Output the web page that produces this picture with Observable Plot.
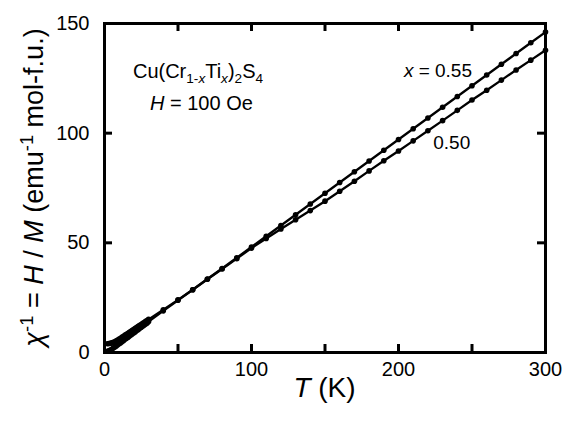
<!DOCTYPE html>
<html>
<head>
<meta charset="utf-8">
<script src="https://cdn.jsdelivr.net/npm/d3@7"></script>
<script src="https://cdn.jsdelivr.net/npm/@observablehq/plot@0.6"></script>
<style>
  body { margin: 0; background: #fff; }
  svg { font-family: "Liberation Sans", Arial, Helvetica, sans-serif; }
</style>
</head>
<body>
<div id="chart"></div>
<script>
// Inverse susceptibility of Cu(Cr1-xTix)2S4 measured at H = 100 Oe
// Low-temperature sweep (K), dense steps
const tempLow = [2, 3, 4, 5, 6, 7, 8, 9, 10, 11, 12, 13, 14, 15, 16, 17, 18, 19, 20, 21, 22, 23, 24, 25, 26, 27, 28, 29, 30];
const invChi055Low = [4.0, 4.1, 4.2, 4.4, 4.6, 4.9, 5.3, 5.7, 6.1, 6.5, 7.0, 7.4, 7.9, 8.3, 8.8, 9.2, 9.7, 10.1, 10.6, 11.0, 11.5, 11.9, 12.4, 12.8, 13.3, 13.7, 14.2, 14.6, 15.1];
const invChi050Low = [0.6, 0.8, 1.1, 1.5, 2.0, 2.5, 3.0, 3.5, 4.0, 4.5, 5.0, 5.5, 6.0, 6.5, 7.0, 7.5, 8.0, 8.5, 9.0, 9.5, 10.0, 10.5, 11.0, 11.5, 12.0, 12.5, 13.0, 13.5, 14.1];
// High-temperature sweep (K), 10 K steps
const tempHigh = [40, 50, 60, 70, 80, 90, 100, 110, 120, 130, 140, 150, 160, 170, 180, 190, 200, 210, 220, 230, 240, 250, 260, 270, 280, 290, 300];
const invChi055High = [19.5, 24.0, 28.6, 33.5, 38.3, 43.2, 48.1, 53.0, 57.9, 62.8, 67.7, 72.6, 77.5, 82.4, 87.3, 92.2, 97.1, 102.0, 106.9, 111.8, 116.7, 121.6, 126.5, 131.4, 136.3, 141.2, 146.1];
const invChi050High = [19.0, 23.8, 28.6, 33.4, 38.1, 42.8, 47.6, 52.0, 56.3, 60.5, 64.7, 69.0, 73.5, 78.1, 82.8, 87.4, 91.9, 96.5, 101.1, 105.7, 110.4, 115.1, 119.6, 124.2, 128.8, 133.3, 137.8];

const xTicks = [0, 50, 100, 150, 200, 250, 300];
const xTickLabels = [0, 100, 200, 300];
const yTicks = [0, 50, 100, 150];

function series(x, temps, values) {
  return temps.map((T, i) => ({ x, T, chi: values[i] }));
}
const rows = [
  ...series("0.55", [...tempLow, ...tempHigh], [...invChi055Low, ...invChi055High]),
  ...series("0.50", [...tempLow, ...tempHigh], [...invChi050Low, ...invChi050High])
];

const W = 566, H = 428;
const mL = 104, mR = 21, mT = 23, mB = 76;
const plotW = W - mL - mR, plotH = H - mT - mB;
const tickLen = 8;

const chart = Plot.plot({
  width: W,
  height: H,
  marginLeft: mL,
  marginRight: mR,
  marginTop: mT,
  marginBottom: mB,
  style: { background: "#fff", color: "#000", fontFamily: '"Liberation Sans", Arial, sans-serif', fontSize: "20px", overflow: "visible" },
  x: { domain: [0, 300] },
  y: { domain: [0, 150] },
  marks: [
    Plot.line(rows, { x: "T", y: "chi", z: "x", stroke: "#000", strokeWidth: 2.3 }),
    Plot.dot(rows, { x: "T", y: "chi", r: 2.8, fill: "#000", stroke: "none" }),
    // inward ticks on all four sides
    Plot.tickX(xTicks, { x: d => d, insetTop: plotH - tickLen, stroke: "#000", strokeWidth: 3 }),
    Plot.tickX(xTicks, { x: d => d, insetBottom: plotH - tickLen, stroke: "#000", strokeWidth: 3 }),
    Plot.tickY(yTicks, { y: d => d, insetRight: plotW - tickLen, stroke: "#000", strokeWidth: 3 }),
    Plot.tickY(yTicks, { y: d => d, insetLeft: plotW - tickLen, stroke: "#000", strokeWidth: 3 }),
    Plot.frame({ stroke: "#000", strokeWidth: 3 }),
    Plot.axisX(xTickLabels, { tickSize: 0, tickPadding: 9, fontSize: 20, label: null }),
    Plot.axisY(yTicks, { tickSize: 0, tickPadding: 15, fontSize: 20, label: null })
  ]
});
document.getElementById("chart").appendChild(chart);

const sx = chart.scale("x"), sy = chart.scale("y");
const svg = d3.select(chart);

// rich text helper: parts = [text, {italic, sub, sup}]
function rich(g, parts, size) {
  let shift = 0;
  parts.forEach(p => {
    const o = typeof p === "string" ? { t: p } : p;
    const ts = g.append("tspan").text(o.t);
    const target = o.sub ? size * 0.28 : o.sup ? -size * 0.38 : 0;
    ts.attr("dy", target - shift);
    shift = target;
    ts.attr("font-size", (o.sub || o.sup) ? size * 0.68 : size);
    if (o.italic) ts.attr("font-style", "italic");
  });
}

function label(x, y, size, parts, anchor = "start", transform = null) {
  const t = svg.append("text")
    .attr("fill", "#000")
    .attr("font-size", size)
    .attr("text-anchor", anchor);
  if (transform) t.attr("transform", transform);
  else t.attr("x", x).attr("y", y);
  rich(t, parts, size);
  return t;
}

// axis titles
label(mL + plotW / 2, 397, 28, [{ t: "T", italic: true }, " (K)"], "middle");
label(0, 0, 27, [
  { t: "\u03C7", italic: true }, { t: "-1", sup: true }, " = ",
  { t: "H", italic: true }, " / ", { t: "M", italic: true },
  " (emu", { t: "-1", sup: true }, " mol-f.u.)"
], "middle", `translate(43,${mT + plotH / 2}) rotate(-90)`);

// compound and field annotation
label(sx.apply(19.7), sy.apply(125), 20, [
  "Cu(Cr", { t: "1-", sub: true }, { t: "x", sub: true, italic: true }, "Ti",
  { t: "x", sub: true, italic: true }, ")", { t: "2", sub: true }, "S", { t: "4", sub: true }
]);
label(sx.apply(31.3), sy.apply(110.3), 20, [{ t: "H", italic: true }, " = 100 Oe"]);

// series labels
label(sx.apply(204), sy.apply(125.4), 19, [{ t: "x", italic: true }, " = 0.55"]);
label(sx.apply(224), sy.apply(92.6), 19, ["0.50"]);
</script>
</body>
</html>
